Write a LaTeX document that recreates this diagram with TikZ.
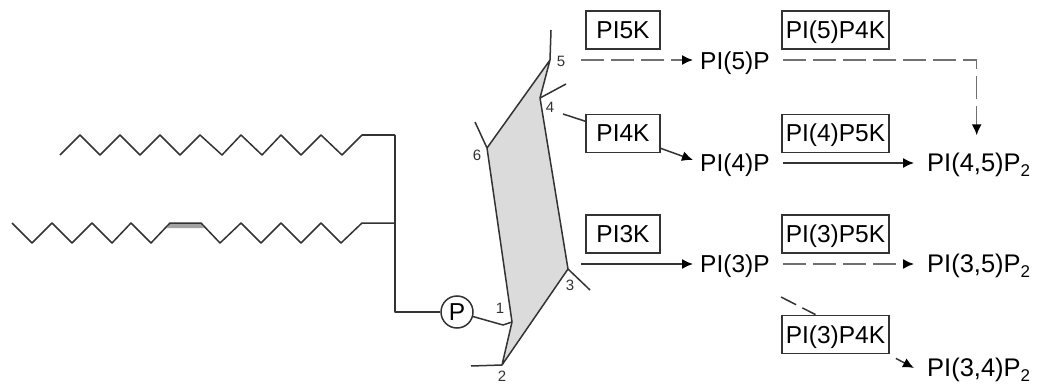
\documentclass[tikz,border=0pt]{standalone}
\usepackage{fontspec}
\setmainfont{Liberation Sans}
\usetikzlibrary{arrows.meta}

\definecolor{inkline}{gray}{0.2}
\definecolor{ringfill}{gray}{0.86}
\newcommand{\subtwo}{\raisebox{-5pt}{\fontsize{17}{17}\selectfont 2}}

\tikzset{
  bond/.style={draw=inkline,line width=1.5pt,line join=round},
  pilabel/.style={anchor=west,inner xsep=7pt,inner ysep=0pt,text height=17pt,text depth=0pt,font=\fontsize{24.5}{25}\selectfont},
  pitwo/.style={pilabel,inner xsep=13pt,font=\fontsize{25.5}{26}\selectfont},
  kinase/.style={draw=inkline,line width=1.8pt,inner sep=0pt,text height=17pt,text depth=0pt,minimum height=38pt,font=\fontsize{24.5}{25}\selectfont},
  shortbox/.style={kinase,minimum width=74pt},
  longbox/.style={kinase,minimum width=107pt},
  number/.style={inner sep=0pt,text=inkline,font=\fontsize{15}{15}\selectfont},
  react/.style={draw=inkline,line width=1.5pt,-{Latex[length=11pt,width=10pt,black]}},
  pidash/.style={react,draw=inkline!70,dash pattern=on 23pt off 7pt}
}

\begin{document}
\begin{tikzpicture}[x=1pt,y=-1pt]
  \useasboundingbox (0,0) rectangle (1038,385);

  \coordinate (c1) at (512,322);
  \coordinate (c2) at (502,365);
  \coordinate (c3) at (568,269);
  \coordinate (c4) at (540,98);
  \coordinate (c5) at (550,60);
  \coordinate (c6) at (487,148);
  \coordinate (junction) at (395,312);

  \filldraw[bond,fill=ringfill] (c5) -- (c6) -- (c1) -- (c2) -- (c3) -- (c4) -- cycle;
  \draw[bond] (c5) -- (551,30);
  \draw[bond] (c4) -- (566,84);
  \draw[bond] (c6) -- (475,122);
  \draw[bond] (c3) -- (590,290);
  \draw[bond] (c2) -- (471,366);

  \node[number] (n1) at (500,308) {1};
  \node[number] (n2) at (502,376) {2};
  \node[number] (n3) at (570,285) {3};
  \node[number] (n4) at (550,107) {4};
  \node[number] (n5) at (561,61) {5};
  \node[number] (n6) at (477,155) {6};

  \node[draw=inkline,line width=1.5pt,circle,minimum size=32pt,inner sep=0pt,font=\fontsize{24.5}{25}\selectfont] (phos) at (457,312) {P};
  \draw[bond] (phos) -- (503,325) -- (c1);
  \draw[bond] (phos) -- (junction) -- (395,135);

  \fill[inkline!45] (170,223) -- (201,223) -- (204,228) -- (167,228) -- cycle;
  \draw[bond] (60,155) -- (80,135) -- (100,155) -- (120,135) -- (140,155) -- (160,135)
    -- (180,155) -- (200,135) -- (222,155) -- (241,135) -- (262,155) -- (281,135)
    -- (301,155) -- (321,135) -- (342,155) -- (362,135) -- (395,135);
  \draw[bond] (12,223) -- (32,243) -- (52,223) -- (72,243) -- (92,223) -- (112,243)
    -- (131,223) -- (151,243) -- (170,223) -- (201,223) -- (220,243) -- (241,223)
    -- (261,243) -- (281,223) -- (301,243) -- (321,223) -- (341,243) -- (362,223) -- (395,223);

  \node[shortbox] (pi5k) at (623,30) {PI5K};
  \node[shortbox] (pi4k) at (623,133.5) {PI4K};
  \node[shortbox] (pi3k) at (623,234) {PI3K};
  \node[longbox] (pi5p4k) at (835.5,30) {PI(5)P4K};
  \node[longbox] (pi4p5k) at (835.5,133.5) {PI(4)P5K};
  \node[longbox] (pi3p5k) at (835.5,234) {PI(3)P5K};
  \node[longbox] (pi3p4k) at (835.5,334.5) {PI(3)P4K};

  \node[pilabel] (pi5p) at (693,61) {PI(5)P};
  \node[pilabel] (pi4p) at (693,163) {PI(4)P};
  \node[pilabel] (pi3p) at (693,264) {PI(3)P};
  \node[pitwo] (pi45) at (914,163) {PI(4,5)P\subtwo};
  \node[pitwo] (pi35) at (914,264) {PI(3,5)P\subtwo};
  \node[pitwo] (pi34) at (914,368) {PI(3,4)P\subtwo};

  \coordinate (from5) at (581,60);
  \coordinate (from4) at (563,114);
  \coordinate (from3) at (581,264);
  \coordinate (from3p) at (781,297);

  \draw[pidash] (from5) -- ([yshift=1pt]pi5p.west);
  \draw[bond] (from4) -- (pi4k);
  \draw[react] ([yshift=5pt]pi4k.south east) -- ([yshift=3pt]pi4p.west);
  \draw[react] (from3) -- (pi3p.west);
  \draw[pidash] ([xshift=6pt,yshift=1pt]pi5p.east) -| ([xshift=-2pt,yshift=19pt]pi45.north);
  \draw[react] ([xshift=6pt]pi4p.east) -- (pi45.west);
  \draw[pidash] ([xshift=6pt]pi3p.east) -- (pi35.west);
  \draw[bond,dash pattern=on 17pt off 7pt] (from3p) -- ([xshift=-20pt]pi3p4k.north);
  \draw[react] ([xshift=6pt,yshift=-4pt]pi3p4k.south east) -- (pi34.west);
\end{tikzpicture}
\end{document}
